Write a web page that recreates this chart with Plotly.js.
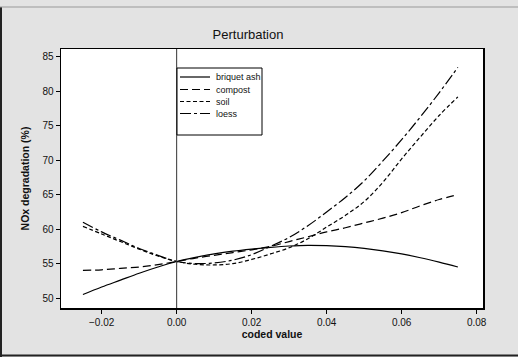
<!DOCTYPE html>
<html>
<head>
<meta charset="utf-8">
<script src="https://cdn.plot.ly/plotly-3.0.1.min.js"></script>
<style>
html,body{margin:0;padding:0;background:#e3e3e3;}
#chart{width:518px;height:357px;}
</style>
</head>
<body>
<div id="chart"></div>
<script>
// ---- data ----
const codedValue = [-0.025,-0.02,-0.015,-0.01,-0.005,0,0.005,0.01,0.015,0.02,0.025,0.03,0.035,0.04,0.045,0.05,0.055,0.06,0.065,0.07,0.075];
const briquetAsh = [50.5,51.6,52.6,53.6,54.5,55.3,55.9,56.4,56.8,57.1,57.35,57.55,57.65,57.6,57.45,57.2,56.85,56.4,55.85,55.2,54.5];
const compost    = [54.0,54.1,54.3,54.5,54.85,55.3,55.8,56.2,56.6,57.0,57.5,58.2,58.9,59.6,60.2,60.9,61.6,62.4,63.4,64.3,65.0];
const soil       = [60.4,59.3,58.2,57.1,56.1,55.3,54.9,54.8,55.0,55.6,56.4,57.3,58.6,60.3,62.0,64.0,66.8,70.2,73.4,76.5,79.2];
const loess      = [61.0,59.6,58.4,57.2,56.2,55.3,55.0,55.1,55.5,56.3,57.5,58.8,60.5,62.5,64.6,67.0,69.9,73.0,76.3,79.8,83.5];
const seriesNames = ['briquet ash','compost','soil','loess'];
const xTickVals = [-0.02,0,0.02,0.04,0.06,0.08];
const yTickVals = [50,55,60,65,70,75,80,85];

// ---- styling ----
const seriesData = [briquetAsh, compost, soil, loess];
const dashes = ['solid','8px,4px','4px,2.5px','11px,3px,3px,3px'];
const W = 518, H = 357, M = {l:61, r:35, t:49, b:49};
const PW = W - M.l - M.r, PH = H - M.t - M.b;
const px = x => (x - M.l) / PW;
const py = y => 1 - (y - M.t) / PH;

const traces = seriesData.map((ys, i) => ({
  x: codedValue, y: ys, type: 'scatter', mode: 'lines', name: seriesNames[i],
  line: {color: '#000', width: 1.2, dash: dashes[i], shape: 'spline', smoothing: 1},
  showlegend: false, hoverinfo: 'skip'
}));

const shapes = [
  // zero line
  {type:'line', xref:'x', yref:'paper', x0:0, x1:0, y0:0, y1:1, line:{color:'#333', width:1}},
  // legend box
  {type:'rect', xref:'paper', yref:'paper', x0:px(177), x1:px(262), y0:py(135), y1:py(68),
   line:{color:'#000', width:1}, fillcolor:'#fff', layer:'above'},
  // outer frame lines
  {type:'line', xref:'paper', yref:'paper', x0:px(1), x1:px(1), y0:py(7), y1:py(357), line:{color:'#222', width:2}},
  {type:'line', xref:'paper', yref:'paper', x0:px(0), x1:px(518), y0:py(355.5), y1:py(355.5), line:{color:'#222', width:2}},
  {type:'line', xref:'paper', yref:'paper', x0:px(0), x1:px(518), y0:py(7), y1:py(7), line:{color:'#999', width:1}}
];
const annotations = [];
const rowY = [77, 89.5, 101.5, 113.5];
seriesNames.forEach((n, i) => {
  shapes.push({type:'line', xref:'paper', yref:'paper', x0:px(180), x1:px(210), y0:py(rowY[i]), y1:py(rowY[i]),
    line:{color:'#000', width:1.2, dash:dashes[i]}, layer:'above'});
  annotations.push({xref:'paper', yref:'paper', x:px(214), y:py(rowY[i]), xanchor:'left', yanchor:'middle',
    text:n, showarrow:false, font:{family:'Liberation Sans, Arial', size:9, color:'#111'}});
});

const layout = {
  width: W, height: H,
  margin: {l:M.l, r:M.r, t:M.t, b:M.b, pad:0},
  paper_bgcolor: '#e3e3e3', plot_bgcolor: '#fff',
  font: {family:'Liberation Sans, Arial', size:10, color:'#111'},
  title: {text:'Perturbation', x:248/W, xref:'container', xanchor:'center', y:1-34/H, yanchor:'middle',
          font:{family:'Liberation Sans, Arial', size:13, color:'#111'}},
  xaxis: {range:[-0.03085, 0.0817], tickvals:xTickVals, tickformat:'.2f', ticks:'outside', ticklen:4,
          tickcolor:'#000', showgrid:false, zeroline:false, showline:true, mirror:true, linecolor:'#000', linewidth:1.5,
          tickfont:{size:10}, automargin:false,
          title:{text:'<b>coded value</b>', standoff:4, font:{size:10.5}}},
  yaxis: {range:[48.55, 86.16], tickvals:yTickVals, ticks:'outside', ticklen:4, tickcolor:'#000',
          showgrid:false, zeroline:false, showline:true, mirror:true, linecolor:'#000', linewidth:1.5,
          tickfont:{size:10}, automargin:false,
          title:{text:'<b>NOx degradation (%)</b>', standoff:10, font:{size:10.5}}},
  shapes: shapes, annotations: annotations, showlegend: false
};
Plotly.newPlot('chart', traces, layout, {staticPlot:true, displayModeBar:false});
</script>
</body>
</html>
